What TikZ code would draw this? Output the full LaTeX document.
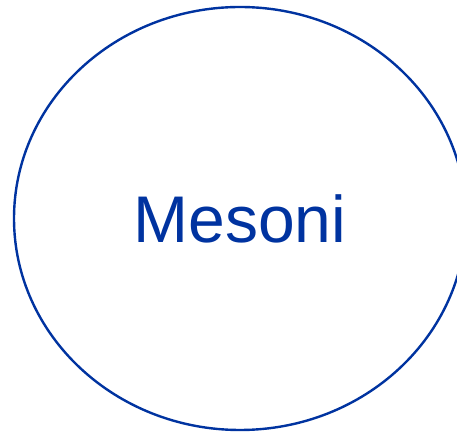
\documentclass[tikz,border=0pt]{standalone}
\usepackage{fontspec}
\setmainfont{Liberation Sans}
\usepackage{xcolor}
\usetikzlibrary{shapes.geometric}
\definecolor{mesonblue}{RGB}{0,51,160}

\begin{document}
\begin{tikzpicture}[
  x=1pt, y=1pt,
  mesonbox/.style={
    ellipse, draw=mesonblue, line width=2.4pt,
    minimum width=452pt, minimum height=423pt, inner sep=0pt,
    text=mesonblue, font=\fontsize{66}{70}\selectfont
  },
]

%% ---- Frame ----
\useasboundingbox (0,0) rectangle (457,433);

%% ---- Ellipse ----
\node[mesonbox] (meson) at (240, 214.5) {Mesoni};

\end{tikzpicture}
\end{document}
